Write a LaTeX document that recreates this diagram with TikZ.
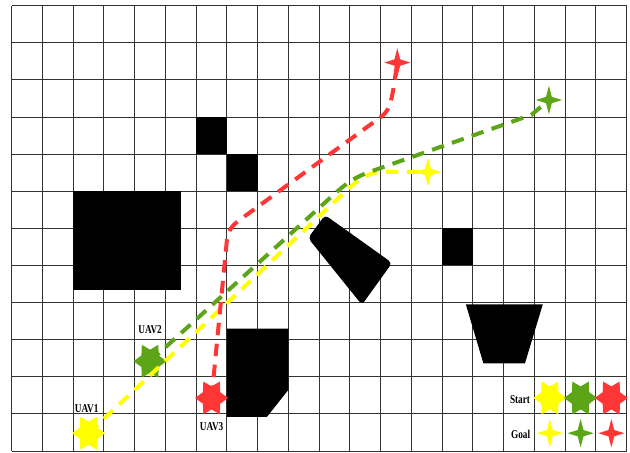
\documentclass[tikz,border=0pt]{standalone}
\usepackage{fontspec}
\setmainfont{Liberation Serif}
\usepackage{xcolor}
\usepackage{tikz}
\usetikzlibrary{shapes.geometric}
\definecolor{cyellow}{HTML}{FFFF00}
\definecolor{cgreen}{HTML}{5BA516}
\definecolor{cred}{HTML}{FF3636}
\definecolor{cgrid}{HTML}{333333}

\begin{document}
\begin{tikzpicture}[
    x=30.75pt, y=37.1pt,
    gridline/.style={draw=cgrid, line width=1pt},
    obst/.style={fill=black},
    startstar/.style={star, star points=6, star point ratio=1.65, minimum size=33pt,
                      inner sep=0pt, shape border rotate=30, yscale=1.15, transform shape},
    goalstar/.style={star, star points=4, star point ratio=3.2, minimum size=26pt,
                     inner sep=0pt, yscale=1.1, transform shape},
    tag/.style={font=\bfseries\fontsize{12}{14}\selectfont, inner sep=0pt,
                xscale=0.77, transform shape},
    route/.style={line width=4pt, dash pattern=on 12.5pt off 8.5pt},
]

% Frame
\fill[white] (-0.38,-0.027) rectangle (20.107,12.156);
\useasboundingbox (-0.38,-0.027) rectangle (20.107,12.156);

% Grid 20 x 12
\foreach \i in {0,...,20} \draw[gridline] (\i,0) -- (\i,12);
\foreach \j in {0,...,12} \draw[gridline] (0,\j) -- (20,\j);

% Obstacles
\fill[obst] (6,8) rectangle (7,9);
\fill[obst] (7,7) rectangle (8,8);
\fill[obst] (14,5) rectangle (15,6);
\fill[obst] (2,4.35) rectangle (5.5,7);
\fill[obst] (7,0.92) -- (7,3.3) -- (9,3.3) -- (9,1.65) -- (8.3,0.92) -- cycle;
\fill[obst, rounded corners=4pt] (10.19,6.36) -- (12.37,5.07) -- (11.39,3.94) -- (9.64,5.74) -- cycle;
\fill[obst] (14.77,3.95) -- (17.27,3.95) -- (16.69,2.36) -- (15.34,2.36) -- cycle;

% Labels
\node[tag] (uav1) at (2.44,1.15) {UAV1};
\node[tag] (uav2) at (4.5,3.26) {UAV2};
\node[tag] (uav3) at (6.5,0.65) {UAV3};
\node[tag] (startlbl) at (16.53,1.39) {Start};
\node[tag] (goallbl) at (16.55,0.46) {Goal};

% Start and goal markers
\node[startstar, fill=cyellow] (s1) at (2.5,0.48) {};
\node[startstar, fill=cgreen]  (s2) at (4.5,2.42) {};
\node[startstar, fill=cred]    (s3) at (6.5,1.43) {};
\node[goalstar, fill=cyellow] (g1) at (13.54,7.52) {};
\node[goalstar, fill=cgreen]  (g2) at (17.47,9.46) {};
\node[goalstar, fill=cred]    (g3) at (12.54,10.47) {};

% Legend
\foreach \c [count=\k] in {cyellow,cgreen,cred} {
    \node[startstar, fill=\c] (ls\k) at (16.5+\k,1.43) {};
    \node[goalstar, fill=\c]  (lg\k) at (16.5+\k,0.48) {};
}

% ── Routes ──
\draw[route, cyellow] (s1.center) -- (10.9,7.03) to[out=43, in=180] (12.1,7.52) -- (g1.center);
\draw[route, cgreen] (s2.center) -- (10.5,6.93) to[out=42, in=199] (11.7,7.54) -- (16.9,9.06) -- (g2.center);
\draw[route, cred] (s3.center) -- (7.0,5.7) to[out=84, in=216] (7.45,6.25)
    -- (12.0,9.0) to[out=36, in=258] (12.4,9.7) -- (g3.center);

\end{tikzpicture}
\end{document}
